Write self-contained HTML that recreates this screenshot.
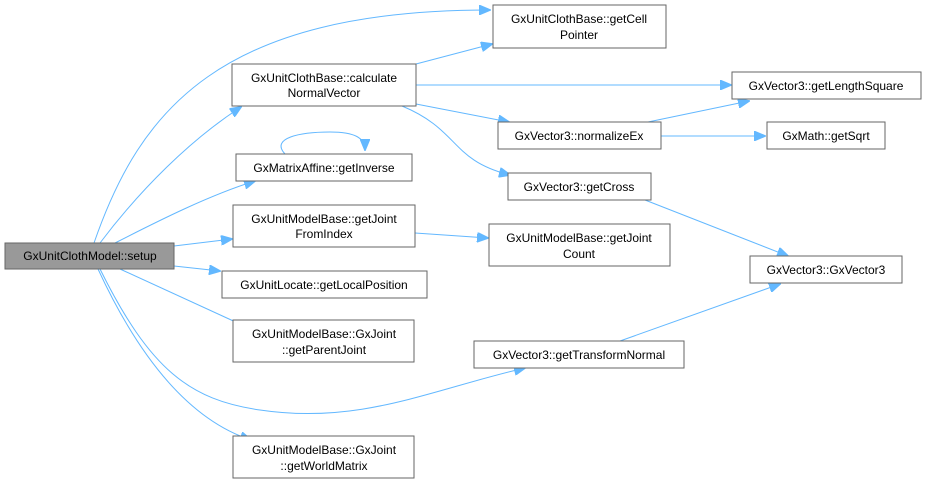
<!DOCTYPE html>
<html><head><meta charset="utf-8"><style>
body{margin:0;background:#fff}
svg{display:block}
text{font-family:"Liberation Sans",sans-serif;font-size:12px;fill:#000;text-anchor:middle}
.n{fill:#fff;stroke:#666;stroke-width:1}
.e{fill:none;stroke:#63b8ff;stroke-width:1}
.a{fill:#63b8ff;stroke:#63b8ff}
</style></head><body>
<svg width="926" height="488" viewBox="0 0 926 488">
<defs><marker id="m" markerWidth="12" markerHeight="10" refX="11" refY="5" orient="auto" markerUnits="userSpaceOnUse"><path d="M0,0 L12,5 L0,10 z" class="a"/></marker></defs>
<g class="e" marker-end="url(#m)">
<path d="M94,243 C140,110 220,10 490,10"/>
<path d="M100,243 C140,190 190,140 241,107"/>
<path d="M115,243 C160,220 210,195 255,181"/>
<path d="M174,246 L232,239"/>
<path d="M174,266 L220,271"/>
<path d="M120,269 L253,330"/>
<path d="M100,269 C150,370 190,400 260,410 C360,425 430,390 525,368"/>
<path d="M98,269 C140,360 190,420 251,440"/>
<path d="M416,64 L492,44"/>
<path d="M416,85 L731,85"/>
<path d="M416,104 L509,122"/>
<path d="M402,106 C460,130 450,160 510,175"/>
<path d="M285,154 C270,138 300,132 330,132 C355,132 365,138 365,150"/>
<path d="M415,233 L488,238"/>
<path d="M648,122 L749,101"/>
<path d="M661,136 L765,136"/>
<path d="M645,200 L788,256"/>
<path d="M620,341 L780,284"/>
</g>
<rect x="5" y="243" width="169" height="26" fill="#999" stroke="#666"/>
<text x="90" y="260">GxUnitClothModel::setup</text>
<rect class="n" x="493" y="5" width="173" height="43"/><text x="579" y="23">GxUnitClothBase::getCell</text><text x="579" y="39">Pointer</text>
<rect class="n" x="232" y="64" width="184" height="42"/><text x="324" y="82">GxUnitClothBase::calculate</text><text x="324" y="97">NormalVector</text>
<rect class="n" x="732" y="72" width="189" height="27"/><text x="826" y="90">GxVector3::getLengthSquare</text>
<rect class="n" x="498" y="122" width="163" height="27"/><text x="579" y="140">GxVector3::normalizeEx</text>
<rect class="n" x="767" y="122" width="118" height="27"/><text x="826" y="140">GxMath::getSqrt</text>
<rect class="n" x="236" y="154" width="176" height="27"/><text x="324" y="172">GxMatrixAffine::getInverse</text>
<rect class="n" x="508" y="173" width="143" height="27"/><text x="579" y="191">GxVector3::getCross</text>
<rect class="n" x="233" y="205" width="182" height="42"/><text x="324" y="223">GxUnitModelBase::getJoint</text><text x="324" y="238">FromIndex</text>
<rect class="n" x="489" y="224" width="181" height="42"/><text x="579" y="242">GxUnitModelBase::getJoint</text><text x="579" y="258">Count</text>
<rect class="n" x="750" y="256" width="152" height="27"/><text x="826" y="274">GxVector3::GxVector3</text>
<rect class="n" x="222" y="271" width="205" height="27"/><text x="324" y="289">GxUnitLocate::getLocalPosition</text>
<rect class="n" x="233" y="320" width="181" height="42"/><text x="324" y="338">GxUnitModelBase::GxJoint</text><text x="324" y="354">::getParentJoint</text>
<rect class="n" x="474" y="341" width="210" height="27"/><text x="579" y="359">GxVector3::getTransformNormal</text>
<rect class="n" x="233" y="436" width="181" height="42"/><text x="324" y="454">GxUnitModelBase::GxJoint</text><text x="324" y="470">::getWorldMatrix</text>
</svg>
</body></html>
